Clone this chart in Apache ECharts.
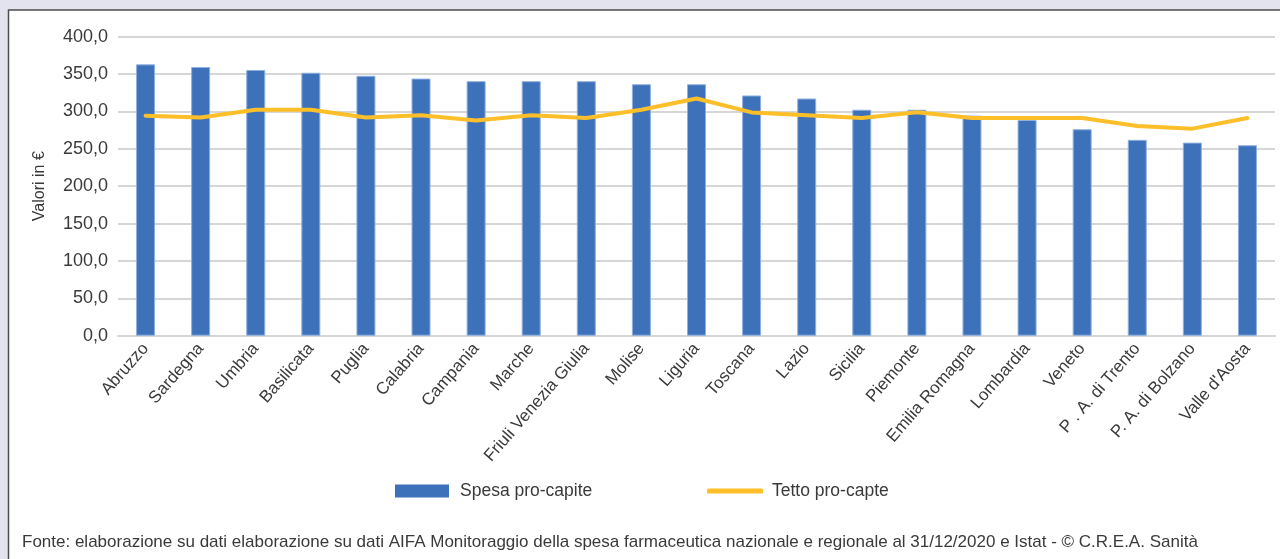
<!DOCTYPE html>
<html>
<head>
<meta charset="utf-8">
<script src="https://cdn.jsdelivr.net/npm/echarts@6/dist/echarts.min.js"></script>
<style>
  html, body { margin: 0; padding: 0; background: #e2e3ef; }
  #chart { width: 1280px; height: 559px; }
</style>
</head>
<body>
<div id="chart"></div>
<script>
// Regioni e valori pro-capite (€)
const categories = ['Abruzzo', 'Sardegna', 'Umbria', 'Basilicata', 'Puglia', 'Calabria', 'Campania',
  'Marche', 'Friuli Venezia Giulia', 'Molise', 'Liguria', 'Toscana', 'Lazio', 'Sicilia', 'Piemonte',
  'Emilia Romagna', 'Lombardia', 'Veneto', 'P . A. di Trento', 'P. A. di Bolzano', "Valle d'Aosta"];
const spesaProCapite = [363.0, 359.5, 355.5, 351.8, 347.7, 344.0, 340.5, 340.5, 340.5, 336.4, 336.4,
  321.4, 317.3, 302.3, 302.3, 294.4, 288.7, 276.2, 262.0, 258.3, 254.8];
const tettoProCapite = [294.4, 291.8, 302.3, 302.3, 291.8, 294.8, 288.0, 294.8, 291.3, 302.3, 317.3,
  298.7, 294.8, 291.3, 299.0, 291.3, 291.3, 291.3, 280.5, 277.0, 291.3];
const yTicks = { min: 0, max: 400, interval: 50 };
const seriesNames = ['Spesa pro-capite', 'Tetto pro-capte'];
const yAxisTitle = 'Valori in €';
const sourceNote = 'Fonte: elaborazione su dati elaborazione su dati AIFA Monitoraggio della spesa farmaceutica nazionale e regionale al 31/12/2020 e Istat - © C.R.E.A. Sanità';

const font = "'Liberation Sans', Arial, sans-serif";
const textColor = '#3a3a3a';

const chart = echarts.init(document.getElementById('chart'), null, { renderer: 'canvas' });
chart.setOption({
  backgroundColor: '#e2e3ef',
  animation: false,
  graphic: [
    {
      type: 'rect', z: -10, silent: true,
      shape: { x: 8.5, y: 10, width: 1290, height: 560 },
      style: { fill: '#ffffff', stroke: '#4d4d4d', lineWidth: 1.5 }
    },
    {
      type: 'text', left: 22, top: 534, silent: true,
      style: { text: sourceNote, font: "17px " + font, fill: textColor }
    }
  ],
  grid: { left: 118, right: 5, top: 36.7, bottom: 223.3 },
  legend: [
    {
      data: [seriesNames[0]], left: 390, top: 476, itemWidth: 54, itemHeight: 13,
      icon: 'rect', selectedMode: false,
      itemStyle: { borderWidth: 0 },
      textStyle: { fontFamily: font, fontSize: 17.5, lineHeight: 20, color: textColor, padding: [0, 0, 0, 6] }
    },
    {
      data: [{ name: seriesNames[1], icon: 'roundRect' }], left: 702, top: 476, itemWidth: 56, itemHeight: 5,
      selectedMode: false,
      textStyle: { fontFamily: font, fontSize: 17.5, lineHeight: 20, color: textColor, padding: [0, 0, 0, 4] }
    }
  ],
  xAxis: {
    type: 'category',
    data: categories,
    axisTick: { show: false },
    axisLine: { lineStyle: { color: '#d6d6d6', width: 2 } },
    axisLabel: {
      rotate: 49, interval: 0, margin: 10,
      fontFamily: font, fontSize: 17, color: textColor
    }
  },
  yAxis: {
    type: 'value',
    min: yTicks.min, max: yTicks.max, interval: yTicks.interval,
    name: yAxisTitle, nameLocation: 'middle', nameGap: 70, nameRotate: 90,
    nameTextStyle: { fontFamily: font, fontSize: 16, color: textColor },
    axisLine: { show: false },
    axisTick: { show: false },
    splitLine: { lineStyle: { color: '#d6d6d6', width: 2 } },
    axisLabel: {
      margin: 10, fontFamily: font, fontSize: 18, color: textColor,
      formatter: v => v.toFixed(1).replace('.', ',')
    }
  },
  series: [
    {
      name: seriesNames[0], type: 'bar', data: spesaProCapite, barWidth: 19,
      itemStyle: { color: '#3d72ba', borderColor: '#8fb0de', borderWidth: 1 }
    },
    {
      name: seriesNames[1], type: 'line', data: tettoProCapite, symbol: 'none',
      lineStyle: { color: '#fcbf2a', width: 4, cap: 'round', join: 'round' },
      itemStyle: { color: '#fcbf2a' }
    }
  ]
});
</script>
</body>
</html>
